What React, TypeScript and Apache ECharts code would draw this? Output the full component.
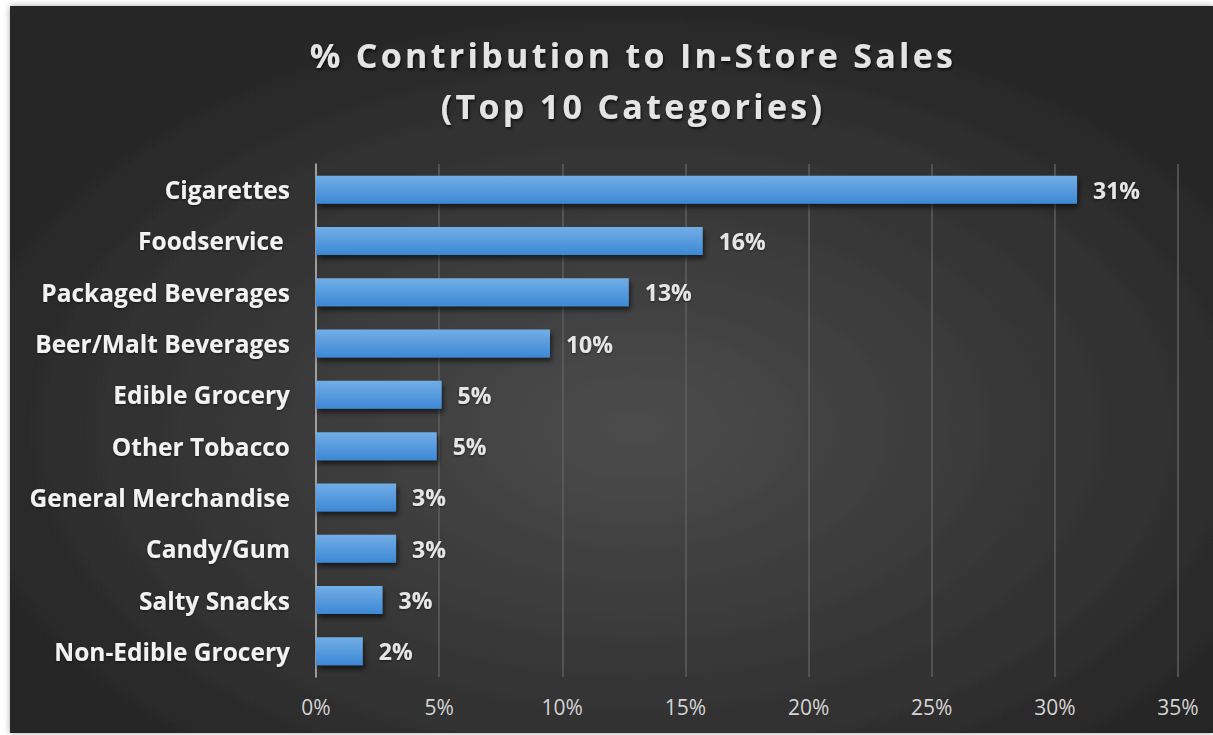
import React, { useEffect, useRef } from "react";
import * as echarts from "echarts";

const categories = [
  "Cigarettes",
  "Foodservice ",
  "Packaged Beverages",
  "Beer/Malt Beverages",
  "Edible Grocery",
  "Other Tobacco",
  "General Merchandise",
  "Candy/Gum",
  "Salty Snacks",
  "Non-Edible Grocery",
];
const values = [30.9, 15.7, 12.7, 9.5, 5.1, 4.9, 3.25, 3.25, 2.7, 1.9];
const titleLines = ["% Contribution to In-Store Sales", "(Top 10 Categories)"];

export default function App() {
  const ref = useRef<HTMLDivElement>(null);
  useEffect(() => {
    document.body.style.margin = "0";
    const chart = echarts.init(ref.current!, null, { renderer: "svg" });
    chart.setOption({
      animation: false,
      backgroundColor: "#ffffff",
      graphic: [
        {
          type: "rect",
          z: -10,
          silent: true,
          shape: { x: 10, y: 6, width: 1203, height: 727 },
          style: {
            fill: new echarts.graphic.RadialGradient(0.52, 0.58, 0.6, [
              { offset: 0, color: "#4c4c4c" },
              { offset: 1, color: "#262626" },
            ]),
            shadowBlur: 6,
            shadowColor: "rgba(0,0,0,0.35)",
          },
        },
      ],
      title: {
        text: titleLines.join("\n"),
        left: 628,
        top: 24,
        textAlign: "center",
        textStyle: {
          color: "#e4e4e4",
          fontFamily: "Open Sans",
          fontWeight: "bold",
          fontSize: 34,
          lineHeight: 51,
          textShadowColor: "rgba(0,0,0,0.7)",
          textShadowBlur: 3,
          textShadowOffsetX: 1,
          textShadowOffsetY: 2,
        },
      },
      grid: { left: 316, right: 35, top: 164, bottom: 58, containLabel: false },
      xAxis: {
        type: "value",
        min: 0,
        max: 35,
        interval: 5,
        axisLine: { show: false },
        axisTick: { show: false },
        splitLine: { show: true, lineStyle: { color: "#5e5e5e", width: 1.5 } },
        axisLabel: {
          formatter: (v: number) => v + "%",
          color: "#d4d4d4",
          fontFamily: "Open Sans",
          fontSize: 21,
          margin: 19,
        },
      },
      yAxis: {
        type: "category",
        inverse: true,
        data: categories,
        axisLine: { show: true, lineStyle: { color: "#b8b8b8", width: 1.5 } },
        axisTick: { show: false },
        axisLabel: {
          color: "#f2f2f2",
          fontFamily: "Open Sans",
          fontWeight: "bold",
          fontSize: 24.5,
          margin: 26,
          textShadowColor: "rgba(0,0,0,0.5)",
          textShadowBlur: 2,
          textShadowOffsetY: 1,
        },
      },
      series: [
        {
          type: "bar",
          data: values,
          barWidth: 28,
          itemStyle: {
            color: new echarts.graphic.LinearGradient(0, 0, 0, 1, [
              { offset: 0, color: "#72aee6" },
              { offset: 1, color: "#3d88d5" },
            ]),
            shadowBlur: 5,
            shadowOffsetX: 2,
            shadowOffsetY: 4,
            shadowColor: "rgba(0,0,0,0.55)",
          },
          label: {
            show: true,
            position: "right",
            distance: 16,
            formatter: (p: any) => Math.round(p.value) + "%",
            color: "#e6e6e6",
            fontFamily: "Open Sans",
            fontWeight: "bold",
            fontSize: 23,
            textShadowColor: "rgba(0,0,0,0.5)",
            textShadowBlur: 2,
            textShadowOffsetY: 1,
          },
        },
      ],
    });
    const texts = ref.current!.querySelectorAll("text");
    texts.forEach((t) => {
      if (titleLines.includes((t.textContent || "").trim())) {
        (t as SVGTextElement).style.letterSpacing = "3.3px";
      }
    });
    return () => chart.dispose();
  }, []);
  return <div ref={ref} style={{ width: 1213, height: 735 }} />;
}
